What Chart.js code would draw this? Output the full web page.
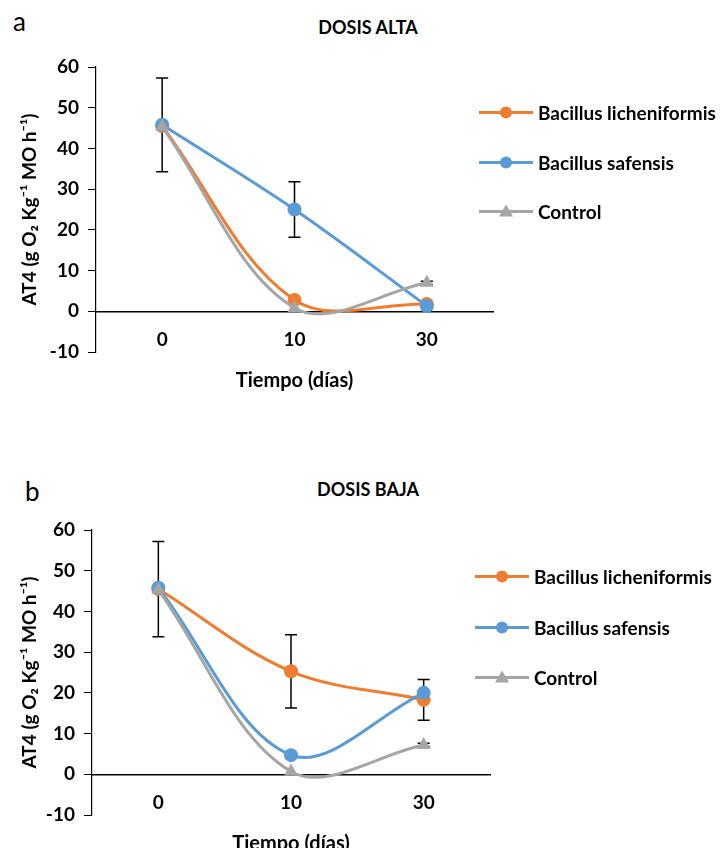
<!DOCTYPE html>
<html>
<head>
<meta charset="utf-8">
<script src="https://cdn.jsdelivr.net/npm/chart.js@4"></script>
<style>
    body { margin: 0; background: #fff; }
    #page { position: relative; width: 724px; height: 848px; font-family: Lato, "Open Sans", sans-serif; color: #000; }
    .panel { position: absolute; left: 0; }
    .letter { position: absolute; font-size: 26px; line-height: 26px; }
    .title { position: absolute; font-size: 18px; font-weight: bold; line-height: 18px; transform: translateX(-50%); white-space: nowrap; }
    .legend-item { position: absolute; display: flex; align-items: center; font-size: 19px; font-weight: bold; white-space: nowrap; transform: translateY(-50%); }
</style>
</head>
<body>
<div id="page">
    <div class="letter" style="left:13px; top:8px;">a</div>
    <div class="title" style="left:368px; top:18px;">DOSIS ALTA</div>
    <div class="panel" style="top:0;"><canvas id="chartAlta" width="724" height="410"></canvas></div>
    <div id="legendAlta"></div>

    <div class="letter" style="left:25px; top:478px;">b</div>
    <div class="title" style="left:368px; top:480px;">DOSIS BAJA</div>
    <div class="panel" style="top:420px;"><canvas id="chartBaja" width="724" height="428"></canvas></div>
    <div id="legendBaja"></div>
</div>
<script>
// Categories and tick settings
const categories = ['0', '10', '30'];
const seriesNames = ['Bacillus licheniformis', 'Bacillus safensis', 'Control'];
const yMin = -10;
const yMax = 60;
const yStep = 10;

// Dosis alta
const altaLicheniformis = [45.5, 2.8, 1.8];
const altaSafensis = [45.8, 25.0, 1.3];
const altaControl = [45.3, 0.8, 7.0];
const altaErrLicheniformis = [0, 0, 0];
const altaErrSafensis = [11.5, 6.8, 0];
const altaErrControl = [0, 0, 0.4];

// Dosis baja
const bajaLicheniformis = [45.5, 25.3, 18.3];
const bajaSafensis = [45.8, 4.7, 20.0];
const bajaControl = [45.3, 0.7, 7.2];
const bajaErrLicheniformis = [11.7, 9.0, 5.0];
const bajaErrSafensis = [0, 0, 0];
const bajaErrControl = [0, 0, 0.4];

const colors = ['#ED7D31', '#5B9BD5', '#A5A5A5'];
const markers = ['circle', 'circle', 'triangle'];
const fontFamily = 'Lato, "Open Sans", sans-serif';

// Draws vertical error bars with caps under the markers
const errorBarPlugin = {
    id: 'errorBars',
    beforeDatasetsDraw(chart) {
        const ctx = chart.ctx;
        const yScale = chart.scales.y;
        ctx.save();
        ctx.strokeStyle = '#000';
        ctx.lineWidth = 1.5;
        chart.data.datasets.forEach((ds, i) => {
            const meta = chart.getDatasetMeta(i);
            ds.errors.forEach((err, j) => {
                if (!err) return;
                const x = meta.data[j].x;
                const top = yScale.getPixelForValue(ds.data[j] + err);
                const bottom = yScale.getPixelForValue(ds.data[j] - err);
                ctx.beginPath();
                ctx.moveTo(x, top); ctx.lineTo(x, bottom);
                ctx.moveTo(x - 6, top); ctx.lineTo(x + 6, top);
                ctx.moveTo(x - 6, bottom); ctx.lineTo(x + 6, bottom);
                ctx.stroke();
            });
        });
        ctx.restore();
    }
};

function makeChart(canvasId, values, errors, yAxisWidth, padding) {
    const ctx = document.getElementById(canvasId).getContext('2d');
    return new Chart(ctx, {
        type: 'line',
        data: {
            labels: categories,
            datasets: values.map((data, i) => ({
                label: seriesNames[i],
                data: data,
                errors: errors[i],
                borderColor: colors[i],
                backgroundColor: colors[i],
                borderWidth: 3,
                pointStyle: markers[i],
                pointRadius: markers[i] === 'triangle' ? 8 : 7,
                pointBorderWidth: 0,
                tension: 0.35,
                order: 3 - i // orange at the bottom, grey on top
            }))
        },
        options: {
            responsive: false,
            animation: false,
            layout: { padding: padding },
            plugins: {
                legend: { display: false },
                tooltip: { enabled: false }
            },
            scales: {
                x: {
                    type: 'category',
                    offset: true,
                    position: { y: 0 },
                    grid: { display: false, drawTicks: false },
                    border: { display: true, color: '#000', width: 1.5 },
                    ticks: { color: '#000', padding: 17, font: { family: fontFamily, size: 19, weight: 'bold' } },
                    title: { display: true, text: 'Tiempo (días)', color: '#000', padding: { top: 0, bottom: 0 }, font: { family: fontFamily, size: 20, weight: 'bold' } }
                },
                y: {
                    min: yMin,
                    max: yMax,
                    ticks: { stepSize: yStep, color: '#000', padding: 9, font: { family: fontFamily, size: 19, weight: 'bold' } },
                    grid: { drawOnChartArea: false, drawTicks: true, tickLength: 8, color: '#000' },
                    border: { display: true, color: '#000', width: 1.2 },
                    title: { display: true, text: 'AT4 (g O₂ Kg⁻¹ MO h⁻¹)', color: '#000', padding: { top: 18, bottom: 0 }, font: { family: fontFamily, size: 19, weight: 'bold' } },
                    afterFit(scale) { scale.width = yAxisWidth; }
                }
            }
        },
        plugins: [errorBarPlugin]
    });
}

function makeLegend(containerId, rowsY, lineX, textGap) {
    const container = document.getElementById(containerId);
    seriesNames.forEach((name, i) => {
        const item = document.createElement('div');
        item.className = 'legend-item';
        item.style.left = lineX + 'px';
        item.style.top = rowsY[i] + 'px';
        const marker = markers[i] === 'circle'
            ? `<circle cx="27" cy="8" r="6" fill="${colors[i]}"/>`
            : `<polygon points="27,1 34,13 20,13" fill="${colors[i]}"/>`;
        item.innerHTML = `<svg width="54" height="16" style="margin-right:${textGap}px"><line x1="0" y1="8" x2="54" y2="8" stroke="${colors[i]}" stroke-width="3"/>${marker}</svg><span>${name}</span>`;
        container.appendChild(item);
    });
}

makeChart('chartAlta', [altaLicheniformis, altaSafensis, altaControl],
    [altaErrLicheniformis, altaErrSafensis, altaErrControl], 96, { top: 67, right: 231, bottom: 58, left: 0 });
makeChart('chartBaja', [bajaLicheniformis, bajaSafensis, bajaControl],
    [bajaErrLicheniformis, bajaErrSafensis, bajaErrControl], 92, { top: 110, right: 234, bottom: 33, left: 0 });

makeLegend('legendAlta', [112, 162, 211], 479, 5);
makeLegend('legendBaja', [576, 627, 677], 475, 5);
</script>
</body>
</html>
